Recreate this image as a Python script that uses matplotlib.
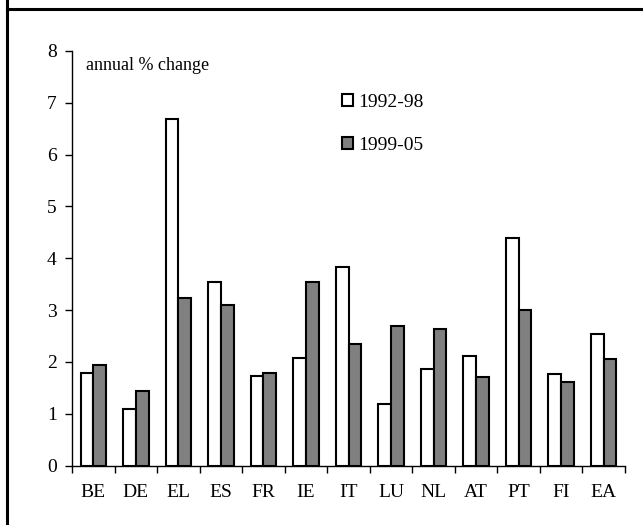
import numpy as np
import matplotlib.pyplot as plt
from matplotlib.lines import Line2D
from matplotlib.patches import Patch

countries = ["BE", "DE", "EL", "ES", "FR", "IE", "IT", "LU", "NL", "AT", "PT", "FI", "EA"]
p1992_98 = [1.79, 1.09, 6.68, 3.55, 1.73, 2.08, 3.84, 1.19, 1.86, 2.11, 4.39, 1.77, 2.54]
p1999_05 = [1.95, 1.44, 3.23, 3.10, 1.79, 3.55, 2.34, 2.69, 2.63, 1.71, 3.00, 1.61, 2.06]
labels = ["1992-98", "1999-05"]

plt.rcParams["font.family"] = ["Liberation Serif", "DejaVu Serif"]

fig = plt.figure(figsize=(6.43, 5.25), dpi=100)
ax = fig.add_axes([0.112, 0.113, 0.86, 0.79])

x = np.arange(len(countries))
w = 0.3
ax.bar(x - w / 2, p1992_98, w, color="white", edgecolor="black", linewidth=1.5)
ax.bar(x + w / 2, p1999_05, w, color="#808080", edgecolor="black", linewidth=1.5)

ax.set_xlim(-0.5, len(countries) - 0.5)
ax.set_ylim(0, 8)
ax.set_yticks(range(0, 9))
ax.tick_params(axis="y", labelsize=14, direction="out", length=5, width=1, pad=6)

# category labels centred, ticks on the boundaries
ax.set_xticks(x)
ax.set_xticklabels(countries, fontsize=14)
ax.tick_params(axis="x", length=0, pad=13)
ax.set_xticks(np.arange(-0.5, len(countries)), minor=True)
ax.tick_params(axis="x", which="minor", direction="out", length=5, width=1)

for s in ["top", "right"]:
    ax.spines[s].set_visible(False)
ax.spines["left"].set_linewidth(1)
ax.spines["bottom"].set_linewidth(1)

ax.text(0.025, 0.985, "annual % change", transform=ax.transAxes, fontsize=13,
        va="top", ha="left")

handles = [Patch(facecolor="white", edgecolor="black", linewidth=1.5),
           Patch(facecolor="#808080", edgecolor="black", linewidth=1.5)]
ax.legend(handles, labels, loc="upper left", bbox_to_anchor=(0.475, 0.915),
          frameon=False, fontsize=14, handlelength=0.55, handleheight=0.55,
          handletextpad=0.25, labelspacing=1.35, borderaxespad=0)

# page frame: left rule and top rule
fig.add_artist(Line2D([7 / 643, 7 / 643], [0, 1], color="black", linewidth=2.2))
fig.add_artist(Line2D([7 / 643, 1], [1 - 9 / 525, 1 - 9 / 525], color="black", linewidth=2.2))

fig.savefig("out.png", dpi=100)
